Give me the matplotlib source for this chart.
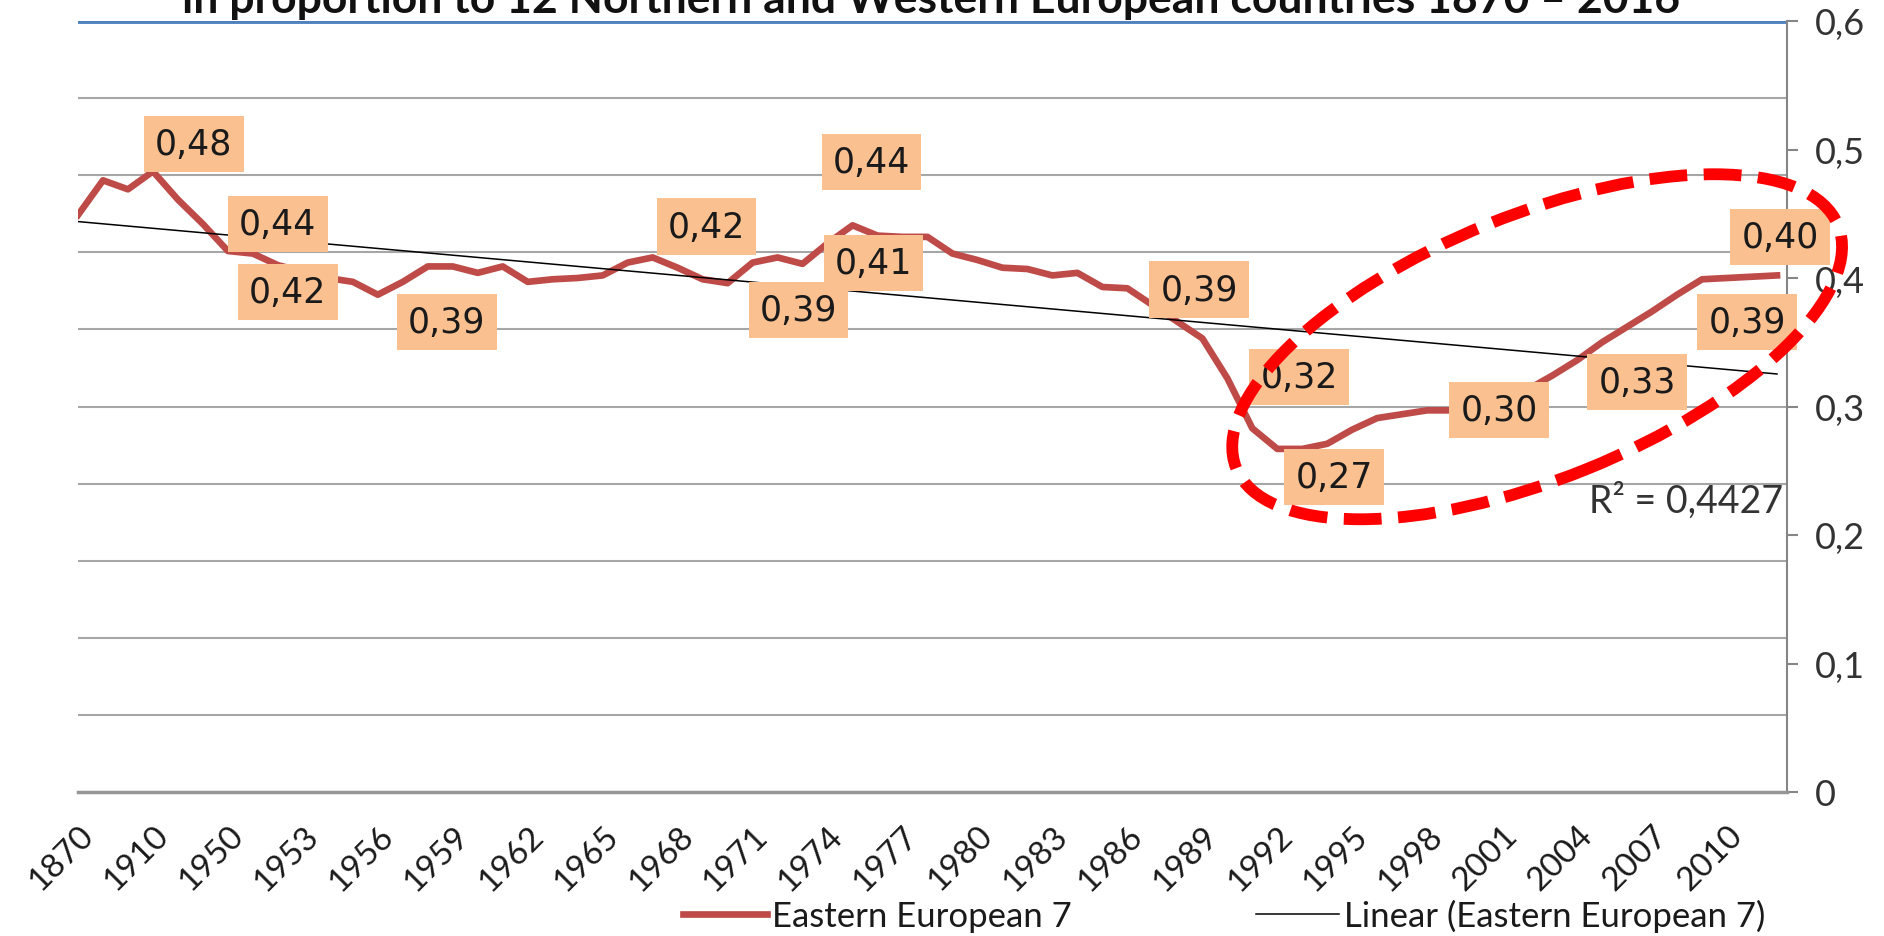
import numpy as np
import matplotlib.pyplot as plt
from matplotlib.patches import Ellipse
from matplotlib.lines import Line2D

# categories: a few early benchmark years, then yearly from 1950
years = ["1870", "1890", "1900", "1910", "1913", "1938"] + [str(y) for y in range(1950, 2013)]

east7 = [0.449, 0.476, 0.469, 0.483, 0.461, 0.442, 0.421, 0.419, 0.410, 0.405,
         0.400, 0.397, 0.387, 0.397, 0.409, 0.409, 0.404, 0.409, 0.397, 0.399,
         0.400, 0.402, 0.412, 0.416, 0.408, 0.399, 0.396, 0.412, 0.416, 0.411,
         0.427, 0.441, 0.433, 0.432, 0.432, 0.419, 0.414, 0.408, 0.407, 0.402,
         0.404, 0.393, 0.392, 0.379, 0.366, 0.353, 0.322, 0.283, 0.267, 0.267,
         0.271, 0.282, 0.291, 0.294, 0.297, 0.297, 0.299, 0.303, 0.313, 0.324,
         0.336, 0.350, 0.362, 0.374, 0.387, 0.399, 0.400, 0.401, 0.402]

label_texts = ["0,48", "0,44", "0,42", "0,39", "0,42", "0,44", "0,39", "0,41",
               "0,39", "0,32", "0,27", "0,30", "0,33", "0,39", "0,40"]
# where each data label box sits (category position, value)
label_pos = [(4.64, 0.504), (8.0, 0.442), (8.4, 0.389), (14.76, 0.366),
             (25.16, 0.440), (31.76, 0.490), (28.84, 0.375), (31.84, 0.4115),
             (44.88, 0.391), (48.88, 0.323), (50.28, 0.245), (56.88, 0.297),
             (62.4, 0.319), (66.8, 0.366), (68.12, 0.432)]

title = "in proportion to 12 Northern and Western European countries 1870 \u2013 2016"

x = np.arange(len(years))
y = np.array(east7)
coef = np.polyfit(x, y, 1)
trend = np.polyval(coef, x)

fig = plt.figure(figsize=(18.84, 9.37), dpi=100)
ax = fig.add_axes([78 / 1884, 1 - 793 / 937, (1787 - 78) / 1884, (793 - 22) / 937])

ax.set_xlim(0, len(years) - 1 + 0.4)
ax.set_ylim(0, 0.6)

# gridlines every 0.06 like the hidden primary axis
for g in np.arange(0.06, 0.59, 0.06):
    ax.axhline(g, color="#a6a6a6", lw=1.5, zorder=1)
ax.axhline(0.6, color="#4f81bd", lw=3.5, zorder=1)

ax.plot(x, y, color="#be4b48", lw=4.8, solid_joinstyle="round", zorder=3)
ax.plot(x, trend, color="black", lw=1.1, zorder=4)

for t, (px, py) in zip(label_texts, label_pos):
    ax.text(px, py, t, ha="center", va="center", fontsize=25, family="DejaVu Sans",
            color="#1a1a1a", zorder=6,
            bbox=dict(boxstyle="square,pad=0.32", fc="#fac090", ec="none"))

ax.text(len(years) - 1 + 0.24, 0.2275, "R\u00b2 = 0,4427", ha="right",
        va="center", fontsize=27, family="Lato", color="#333333", zorder=6)

# the red dashed ring around 1990-2012
cx, cy = ax.transData.transform((58.4, 0.3465))
ring = Ellipse((cx / 100, cy / 100), 6.49, 2.64, angle=22,
               transform=fig.dpi_scale_trans, fill=False, ec="#ff0000", lw=8.5,
               linestyle=(0, (3.2, 1.4)), zorder=7)
fig.patches.append(ring)

for s in ["left", "top"]:
    ax.spines[s].set_visible(False)
ax.spines["right"].set_color("#868686")
ax.spines["right"].set_linewidth(1.5)
ax.spines["bottom"].set_color("#969696")
ax.spines["bottom"].set_linewidth(2.5)

ax.yaxis.tick_right()
ax.set_yticks(np.arange(0, 0.61, 0.1))
ax.set_yticklabels(["0", "0,1", "0,2", "0,3", "0,4", "0,5", "0,6"])
ax.tick_params(axis="y", length=8, width=1.5, color="#868686", pad=12,
               labelsize=26, labelcolor="#333333")
for lab in ax.get_yticklabels():
    lab.set_family("Lato")

ax.set_xticks(x[::3])
ax.set_xticklabels(years[::3], rotation=45, ha="right", va="top",
                   rotation_mode="anchor", family="Lato", fontsize=24, color="#1a1a1a")
ax.tick_params(axis="x", length=0, pad=20)

fig.text(0.494, 1 - 13 / 937, title, ha="center", va="baseline", fontsize=32,
         fontweight="bold", family="Lato", color="#111111")

handles = [Line2D([], [], color="#be4b48", lw=4.8), Line2D([], [], color="black", lw=1.1)]
fig.legend(handles, ["Eastern European 7", "Linear (Eastern European 7)"],
           loc="center", bbox_to_anchor=(0.65, 0.022), ncol=2, frameon=False,
           prop={"family": "Lato", "size": 25}, handlelength=2.4, columnspacing=5.3,
           handletextpad=0.15, labelcolor="#1a1a1a")

fig.savefig("out.png", dpi=100)
